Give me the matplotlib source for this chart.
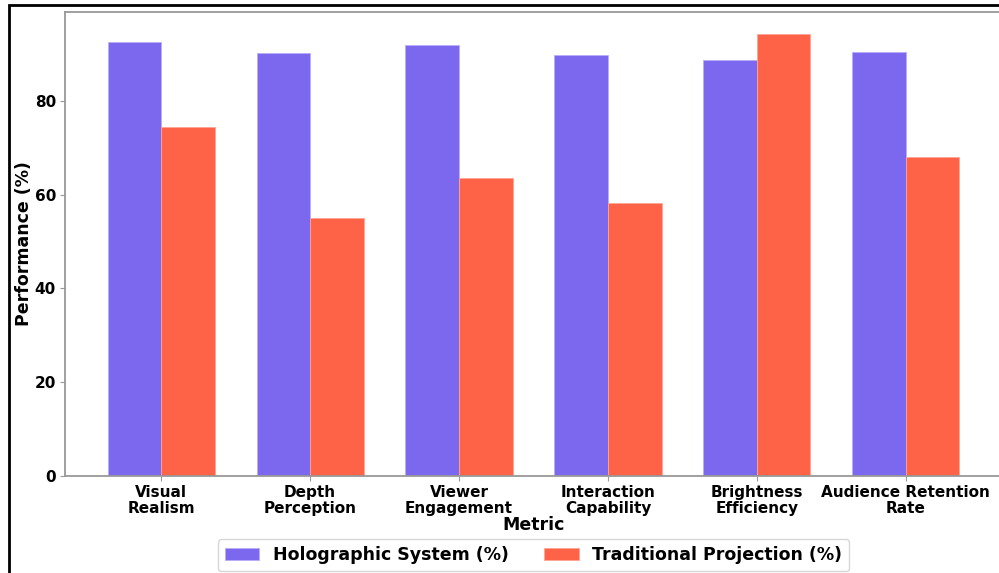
import matplotlib.pyplot as plt
import numpy as np
from matplotlib.patches import Rectangle

# Performance comparison data
metrics = ['Visual\nRealism', 'Depth\nPerception', 'Viewer\nEngagement',
           'Interaction\nCapability', 'Brightness\nEfficiency', 'Audience Retention\nRate']
holographic = [92.6, 90.2, 91.9, 89.7, 88.7, 90.4]
traditional = [74.3, 55.0, 63.6, 58.2, 94.2, 68.1]

x = np.arange(len(metrics))
width = 0.36

fig = plt.figure(figsize=(9.99, 5.73), dpi=100)
ax = fig.add_axes([65 / 999, 1 - 476 / 573, 937 / 999, 464 / 573])

ax.bar(x - width / 2, holographic, width, color='#7B68EE', edgecolor='#B9AEF7',
       linewidth=0.6, label='Holographic System (%)')
ax.bar(x + width / 2, traditional, width, color='#FF6347', edgecolor='#FFA594',
       linewidth=0.6, label='Traditional Projection (%)')

ax.set_xticks(x)
ax.set_xticklabels(metrics, fontsize=11, fontweight='bold', linespacing=1.1)
ax.set_yticks([0, 20, 40, 60, 80])
for lbl in ax.get_yticklabels():
    lbl.set_fontweight('bold')
    lbl.set_fontsize(11)
ax.set_xlabel('Metric', fontsize=12.5, fontweight='bold', labelpad=0)
ax.set_ylabel('Performance (%)', fontsize=12.5, fontweight='bold', labelpad=1.5)

for sp in ax.spines.values():
    sp.set_color('#999999')
    sp.set_linewidth(1.3)
ax.tick_params(colors='#999999', labelcolor='black', pad=3)

ax.legend(loc='upper center', bbox_to_anchor=(0.5, -0.118), ncol=2,
          prop={'weight': 'bold', 'size': 12.5}, frameon=True, columnspacing=2.0,
          borderpad=0.4)

# black frame along the left and top edges
fig.patches.append(Rectangle((8.5 / 999, -0.1), 1.2, 1.1 - 5.5 / 573, fill=False,
                             edgecolor='black', linewidth=2,
                             transform=fig.transFigure, clip_on=False))

fig.savefig('out.png', dpi=100)
